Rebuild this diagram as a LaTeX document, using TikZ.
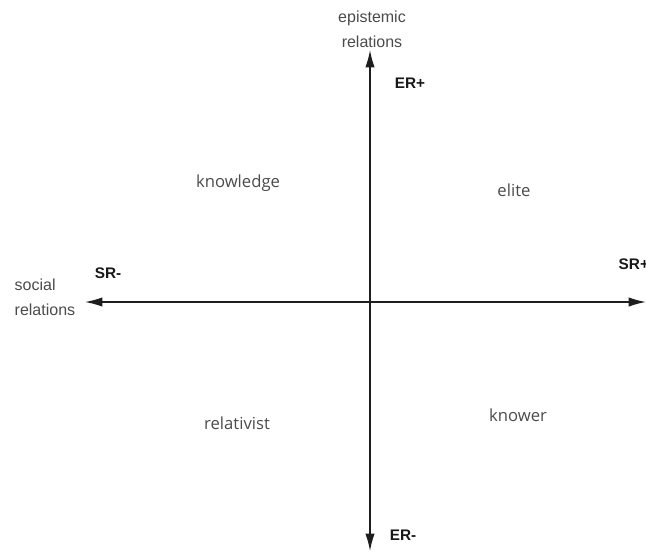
\documentclass[tikz,border=0pt]{standalone}
\usepackage{fontspec}
\setmainfont{Liberation Sans}
\newfontfamily\quadfont{Open Sans}
\usepackage{tikz}
\usetikzlibrary{arrows.meta}

\definecolor{axisgray}{RGB}{30,30,30}
\definecolor{labelgray}{RGB}{75,75,75}

\begin{document}
\begin{tikzpicture}[x=0.75pt,y=-0.75pt,
    >={Latex[length=13pt,width=7pt]},
    axis/.style={draw=axisgray,line width=1pt},
    pole/.style={font=\fontsize{11.5}{13}\selectfont\bfseries,text=black!90},
    quad/.style={font=\quadfont\fontsize{12.5}{14}\selectfont,text=labelgray},
    axisname/.style={font=\fontsize{12}{19}\selectfont,text=labelgray,align=left}]
  \useasboundingbox (0,0) rectangle (646,551);
  % axis ends
  \coordinate (top) at (370,50);
  \coordinate (bot) at (370,551);
  \coordinate (lft) at (85,302);
  \coordinate (rgt) at (646,302);
  \coordinate (mid) at (370,302);
  % axes
  \draw[axis,->] (mid) -- (top);
  \draw[axis,->] (mid) -- (bot);
  \draw[axis,->] (mid) -- (lft);
  \draw[axis,->] (mid) -- (rgt);
  % axis names
  \node[axisname,align=center] (er) at (372,29) {epistemic\\relations};
  \node[axisname,anchor=west] (sr) at (10,297) {social\\relations};
  % poles
  \node[pole] (erplus) at (410,83) {ER+};
  \node[pole] (erminus) at (403,535) {ER-};
  \node[pole] (srminus) at (108,273) {SR-};
  \node[pole,anchor=west] (srplus) at (614,264) {SR+};
  % quadrants
  \node[quad] (knowledge) at (238,183) {knowledge};
  \node[quad] (elite) at (514,190) {elite};
  \node[quad] (relativist) at (237,423) {relativist};
  \node[quad] (knower) at (518,415) {knower};
\end{tikzpicture}
\end{document}
